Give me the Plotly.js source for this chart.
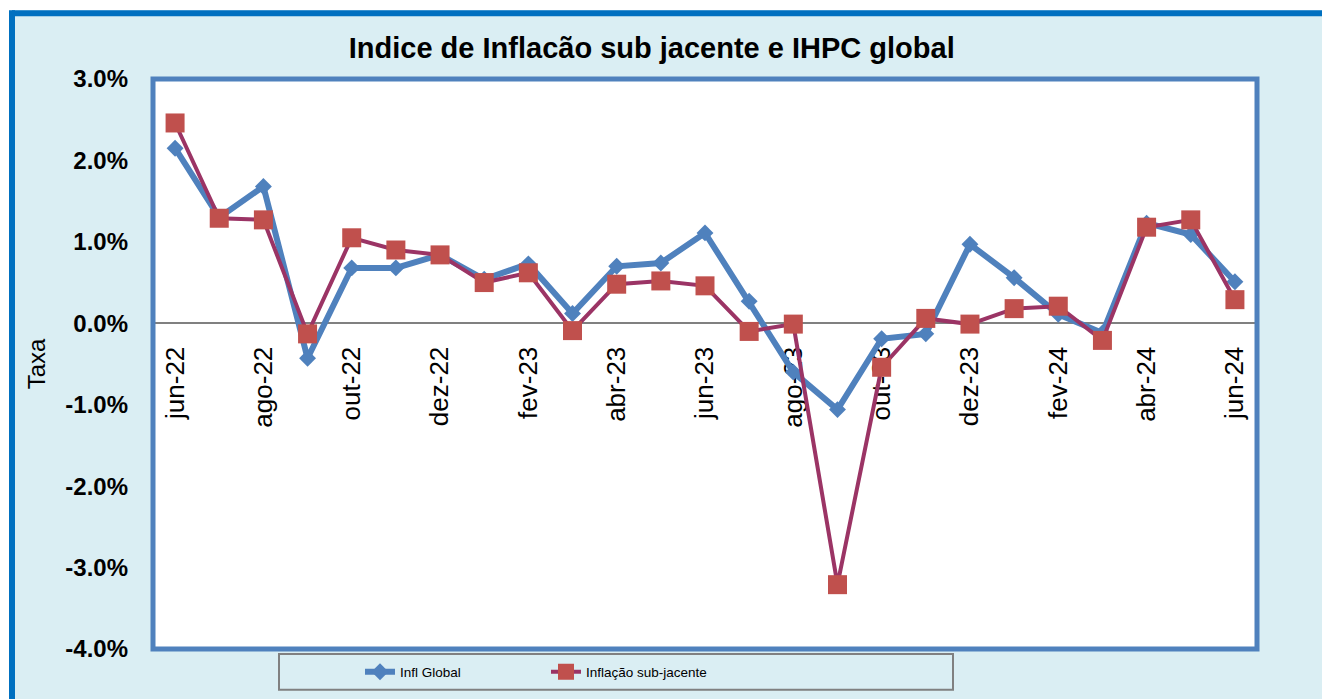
<!DOCTYPE html>
<html>
<head>
<meta charset="utf-8">
<script src="https://cdn.plot.ly/plotly-3.0.1.min.js"></script>
<style>html,body{margin:0;padding:0;background:#fff;}#chart{width:1322px;height:699px;}</style>
</head>
<body>
<div id="chart"></div>
<script>
// ---- data ----
const months = ['jun-22','jul-22','ago-22','set-22','out-22','nov-22','dez-22','jan-23','fev-23','mar-23','abr-23','mai-23','jun-23','jul-23','ago-23','set-23','out-23','nov-23','dez-23','jan-24','fev-24','mar-24','abr-24','mai-24','jun-24'];
const inflGlobal = [2.15,1.30,1.68,-0.43,0.68,0.68,0.84,0.54,0.73,0.12,0.70,0.74,1.11,0.27,-0.60,-1.06,-0.19,-0.13,0.97,0.56,0.11,-0.12,1.23,1.09,0.51];
const inflSubjacente = [2.46,1.29,1.27,-0.13,1.05,0.90,0.84,0.50,0.62,-0.09,0.48,0.52,0.46,-0.10,-0.01,-3.21,-0.54,0.06,-0.01,0.18,0.21,-0.21,1.18,1.27,0.29];
const xTickLabels = months.filter((m, i) => i % 2 === 0);
const yTickVals = [-4,-3,-2,-1,0,1,2,3];
const yTickText = ['-4.0%','-3.0%','-2.0%','-1.0%','0.0%','1.0%','2.0%','3.0%'];
const seriesNames = ['Infl Global','Inflação sub-jacente'];
const titleText = 'Indice de Inflacão sub jacente e IHPC global';
const yTitleText = 'Taxa';

// ---- layout helpers (pixel -> paper) ----
const L = 153, R = 1257, T = 79, B = 651;
const px = x => (x - L) / (R - L);
const py = y => (B - y) / (B - T);
const FONT = 'Liberation Sans, Arial, sans-serif';

const traces = [
  {
    x: months, y: inflGlobal, name: seriesNames[0], type: 'scatter', mode: 'lines+markers',
    line: {color: '#4F81BD', width: 6},
    marker: {symbol: 'diamond', size: 13, color: '#4F81BD'}
  },
  {
    x: months, y: inflSubjacente, name: seriesNames[1], type: 'scatter', mode: 'lines+markers',
    line: {color: '#9B3465', width: 4},
    marker: {symbol: 'square', size: 19, color: '#C0504D'}
  }
];

const layout = {
  width: 1322, height: 699,
  margin: {l: L, r: 1322 - R, t: T, b: 699 - B, pad: 0},
  paper_bgcolor: '#DAEEF3',
  plot_bgcolor: '#FFFFFF',
  showlegend: true,
  title: {
    text: titleText, x: 0.493, xanchor: 'center', y: 1 - 48/699, yanchor: 'middle',
    font: {family: FONT, size: 29, color: '#000', weight: 'bold'}
  },
  font: {family: FONT, color: '#000'},
  xaxis: {
    type: 'category', range: [-0.5, months.length - 0.5],
    anchor: 'free', position: 4/7,
    showline: true, linecolor: '#808080', linewidth: 2,
    showgrid: false, zeroline: false, ticks: '',
    tickmode: 'array', tickvals: xTickLabels, ticktext: xTickLabels,
    tickangle: -90, tickfont: {family: FONT, size: 26, color: '#000'},
    ticklabelstandoff: 12,
    layer: 'below traces', fixedrange: true
  },
  yaxis: {
    range: [-4, 3], showgrid: false, zeroline: false, showline: false, ticks: '',
    tickmode: 'array', tickvals: yTickVals, ticktext: yTickText,
    tickfont: {family: FONT, size: 24, color: '#000', weight: 'bold'},
    ticklabelstandoff: 24,
    title: {text: yTitleText, font: {family: FONT, size: 24, color: '#000'}, standoff: 12},
    fixedrange: true
  },
  legend: {
    orientation: 'h', x: px(360), xanchor: 'left', y: py(674), yanchor: 'middle',
    bgcolor: 'rgba(0,0,0,0)', borderwidth: 0,
    font: {family: FONT, size: 13.5, color: '#000'},
    entrywidth: 141, traceorder: 'normal'
  },
  shapes: [
    // white outside of the outer frame
    {type: 'rect', xref: 'paper', yref: 'paper', x0: px(-5), x1: px(1330), y0: py(-5), y1: py(10), fillcolor: '#FFFFFF', line: {width: 0}},
    {type: 'rect', xref: 'paper', yref: 'paper', x0: px(-5), x1: px(9), y0: py(-5), y1: py(705), fillcolor: '#FFFFFF', line: {width: 0}},
    // outer frame lines
    {type: 'line', xref: 'paper', yref: 'paper', x0: px(12), x1: px(1330), y0: py(13), y1: py(13), line: {color: '#0070C0', width: 6}},
    {type: 'line', xref: 'paper', yref: 'paper', x0: px(12), x1: px(12), y0: py(10), y1: py(705), line: {color: '#0070C0', width: 6}},
    // plot area border
    {type: 'rect', xref: 'paper', yref: 'paper', x0: 0, x1: 1, y0: 0, y1: 1, line: {color: '#4F81BD', width: 5}, fillcolor: 'rgba(0,0,0,0)', layer: 'above'},
    // legend box
    {type: 'rect', xref: 'paper', yref: 'paper', x0: px(279), x1: px(953), y0: py(692), y1: py(656), line: {color: '#808080', width: 2}, fillcolor: '#DAEEF3', layer: 'below'}
  ]
};

Plotly.newPlot('chart', traces, layout, {displayModeBar: false, staticPlot: true});
</script>
</body>
</html>
